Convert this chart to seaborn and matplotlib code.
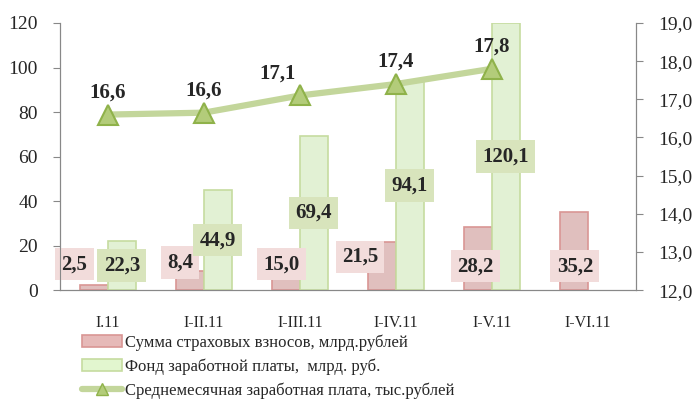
import matplotlib
matplotlib.use("Agg")
import matplotlib.pyplot as plt
import matplotlib.patches as mpatches
import matplotlib.lines as mlines
import seaborn as sns
import pandas as pd
import numpy as np

# data
periods = ['I.11', 'I-II.11', 'I-III.11', 'I-IV.11', 'I-V.11', 'I-VI.11']
insurance = [2.5, 8.4, 15.0, 21.5, 28.2, 35.2]
payroll = [22.3, 44.9, 69.4, 94.1, 120.1, np.nan]
avg_wage = [16.6, 16.65, 17.1, 17.4, 17.8]

name_ins = 'Сумма страховых взносов, млрд.рублей'
name_pay = 'Фонд заработной платы,  млрд. руб.'
name_wage = 'Среднемесячная заработная плата, тыс.рублей'

# label placement nudges (category units / left-axis units)
pink_dx = [-0.35, -0.25, -0.19, -0.375, -0.17, -0.135]
pink_y = [11.7, 12.4, 11.7, 15.0, 10.8, 10.8]
wage_dx = [0, 0, -0.23, 0, 0]

pink_fill, pink_edge, pink_box = '#e6b9b8', '#d99694', '#f2dcdb'
green_fill, green_edge, green_box = '#e2f6cf', '#c6dca0', '#d8e4bc'
line_col, mark_fill, mark_edge = '#c3d69b', '#b3cc7a', '#8fb24a'

df = pd.DataFrame({
    'period': periods * 2,
    'value': insurance + payroll,
    'series': [name_ins] * 6 + [name_pay] * 6,
})

sns.set_style("white")
plt.rcParams['font.family'] = ['Liberation Serif', 'DejaVu Serif']

fig = plt.figure(figsize=(6.98, 4.03), dpi=100)
ax = fig.add_axes([0.086, 0.280, 0.825, 0.663])

sns.barplot(data=df, x='period', y='value', hue='series', order=periods,
            hue_order=[name_ins, name_pay],
            palette=[pink_fill, green_fill], width=0.58, dodge=True,
            linewidth=1.2, legend=False, ax=ax)
for cont, ec in zip(ax.containers, [pink_edge, green_edge]):
    for bar in cont:
        bar.set_edgecolor(ec)

ax.set_xlim(-0.5, len(periods) - 0.5)
ax.set_ylim(0, 120)
ax.set_yticks(range(0, 121, 20))
ax.set_xlabel('')
ax.set_ylabel('')
ax.set_xticks(np.arange(len(periods) + 1) - 0.5, minor=True)
ax.tick_params(axis='x', which='major', length=0, pad=18, labelsize=11.5)
ax.tick_params(axis='x', which='minor', length=5, color='#888888', width=1,
               direction='out')
ax.tick_params(axis='y', length=5, color='#888888', labelsize=14, pad=11)
ax.spines['top'].set_visible(False)
for s in ['left', 'bottom', 'right']:
    ax.spines[s].set_color('#888888')

bold = dict(fontsize=15, fontweight='bold', ha='center', va='center')

# bar labels
for i, v in enumerate(insurance):
    ax.text(i + pink_dx[i], pink_y[i], f'{v:.1f}'.replace('.', ','),
            bbox=dict(boxstyle='square,pad=0.3', fc=pink_box, ec='none'),
            zorder=5, **bold)
for i, v in enumerate(payroll):
    if np.isnan(v):
        continue
    ax.text(i + 0.145, v / 2, f'{v:.1f}'.replace('.', ','),
            bbox=dict(boxstyle='square,pad=0.3', fc=green_box, ec='none'),
            zorder=5, **bold)

# line on secondary axis
ax2 = ax.twinx()
xs = np.arange(len(avg_wage))
sns.lineplot(x=xs, y=avg_wage, ax=ax2, color=line_col, linewidth=4.5,
             marker='^', markersize=15, markerfacecolor=mark_fill,
             markeredgecolor=mark_edge, markeredgewidth=1.5)
ax2.set_ylim(12, 19)
ticks2 = np.arange(12, 19.1, 1)
ax2.set_yticks(ticks2)
ax2.set_yticklabels([f'{t:.1f}'.replace('.', ',') for t in ticks2])
ax2.tick_params(axis='y', length=5, color='#888888', labelsize=14, pad=11)
ax2.spines['top'].set_visible(False)
for s in ['left', 'bottom', 'right']:
    ax2.spines[s].set_color('#888888')
for x, v in zip(xs, avg_wage):
    ax2.annotate(f'{v:.1f}'.replace('.', ','), (x + wage_dx[x], v),
                 xytext=(0, 16), textcoords='offset points', **bold)

handles = [
    mpatches.Patch(facecolor=pink_fill, edgecolor=pink_edge, linewidth=1.2),
    mpatches.Patch(facecolor=green_fill, edgecolor=green_edge, linewidth=1.2),
    mlines.Line2D([], [], color=line_col, linewidth=4.5, marker='^',
                  markersize=9, markerfacecolor=mark_fill,
                  markeredgecolor=mark_edge),
]
fig.legend(handles, [name_ins, name_pay, name_wage], loc='upper left',
           bbox_to_anchor=(0.117, 0.17), frameon=False, fontsize=12,
           handlelength=2.4, handletextpad=0.2, labelspacing=0.45,
           borderpad=0, borderaxespad=0)

fig.savefig('out.png', dpi=100)
